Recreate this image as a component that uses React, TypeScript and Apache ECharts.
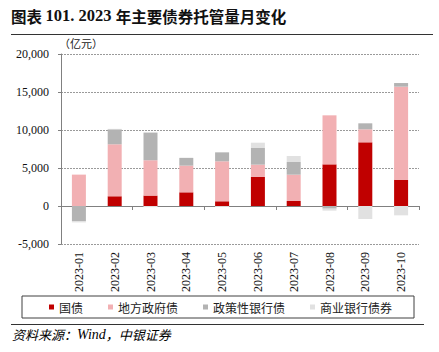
import React, { useEffect, useRef } from "react";
import * as echarts from "echarts";

const categories = ["2023-01", "2023-02", "2023-03", "2023-04", "2023-05", "2023-06", "2023-07", "2023-08", "2023-09", "2023-10"];
const govBond = [0, 1280, 1370, 1800, 620, 3820, 660, 5480, 8380, 3460];
const localBond = [4130, 6840, 4650, 3510, 5260, 1620, 3460, 6450, 1710, 12240];
const policyBank = [-1980, 1970, 3640, 1010, 1180, 2190, 1670, -350, 790, 480];
const commercialBank = [-180, 60, -150, 40, -120, 700, 790, -260, -1710, -1230];
const seriesNames = ["国债", "地方政府债", "政策性银行债", "商业银行债券"];
const colors = ["#C00000", "#F2B0B3", "#B3B3B3", "#E1E1E1"];
const yTicks = { min: -5000, max: 20000, interval: 5000 };

const titleParts = ["图表 ", "101. 2023 ", "年主要债券托管量月变化"];
const unit = "（亿元）";
const sourceParts = ["资料来源：", "Wind", "，中银证券"];

export default function App() {
  const ref = useRef<HTMLDivElement>(null);
  useEffect(() => {
    if (!ref.current) return;
    const chart = echarts.init(ref.current, null, { renderer: "svg" });
    const serif = "'Liberation Serif', 'Times New Roman', serif";
    const cjk = "'Noto Sans CJK SC', sans-serif";
    const data = [govBond, localBond, policyBank, commercialBank];
    chart.setOption({
      animation: false,
      backgroundColor: "#fff",
      grid: { left: 61, right: 20, top: 54, bottom: 108, containLabel: false },
      legend: {
        left: 22,
        top: 296,
        padding: [5, 22, 5, 27],
        borderColor: "#404040",
        borderWidth: 1,
        itemWidth: 5,
        itemHeight: 5,
        itemGap: 25,
        icon: "rect",
        textStyle: { fontFamily: cjk, fontSize: 12, color: "#222" },
        data: seriesNames,
      },
      xAxis: [
        {
          type: "category",
          data: categories,
          position: "bottom",
          axisLine: { onZero: true, lineStyle: { color: "#808080", width: 1 } },
          axisTick: { show: true, length: 4, lineStyle: { color: "#808080" } },
          axisLabel: { show: false },
          splitLine: { show: false },
        },
        {
          type: "category",
          data: categories,
          position: "bottom",
          axisLine: { show: false, onZero: false },
          axisTick: { show: false },
          axisLabel: { show: true, rotate: 90, margin: 8, fontFamily: serif, fontSize: 12, color: "#111" },
          splitLine: { show: false },
        },
      ],
      yAxis: {
        type: "value",
        min: yTicks.min,
        max: yTicks.max,
        interval: yTicks.interval,
        axisLine: { show: true, lineStyle: { color: "#808080" } },
        axisTick: { show: true, length: 3, lineStyle: { color: "#808080" } },
        axisLabel: {
          margin: 12,
          fontFamily: serif,
          fontSize: 12,
          color: "#111",
          formatter: (v: number) => (v < 0 ? "-" : "") + Math.abs(v).toLocaleString("en-US"),
        },
        splitLine: { show: true, lineStyle: { color: "#9a9a9a", type: [2, 1], width: 1 } },
      },
      series: seriesNames.map((name, i) => ({
        name,
        type: "bar",
        stack: "total",
        xAxisIndex: 0,
        barWidth: 14,
        data: data[i],
        itemStyle: { color: colors[i] },
      })),
      graphic: [
        {
          type: "text",
          left: 11,
          top: 7,
          style: {
            text: `{a|${titleParts[0]}}{b|${titleParts[1]}}{a|${titleParts[2]}}`,
            rich: {
              a: { fontFamily: cjk, fontWeight: "bold", fontSize: 15.5, fill: "#111", color: "#111" },
              b: { fontFamily: serif, fontWeight: "bold", fontSize: 16.5, fill: "#111", color: "#111" },
            },
          },
        },
        {
          type: "line",
          shape: { x1: 11, y1: 34.5, x2: 433, y2: 34.5 },
          style: { stroke: "#333", lineWidth: 1.2 },
        },
        {
          type: "text",
          left: 59,
          top: 37,
          style: { text: unit, font: `11px ${cjk}`, fill: "#222" },
        },
        {
          type: "line",
          shape: { x1: 11, y1: 324.5, x2: 424, y2: 324.5 },
          style: { stroke: "#333", lineWidth: 1.2 },
        },
        {
          type: "text",
          left: 12,
          top: 327,
          style: {
            text: `{a|${sourceParts[0]}}{b|${sourceParts[1]}}{a|${sourceParts[2]}}`,
            rich: {
              a: { fontFamily: cjk, fontStyle: "italic", fontSize: 13, color: "#222" },
              b: { fontFamily: serif, fontStyle: "italic", fontSize: 14, color: "#222" },
            },
          },
        },
      ],
    });
    return () => chart.dispose();
  }, []);
  return <div ref={ref} style={{ position: "absolute", left: 0, top: 0, width: 439, height: 352 }} />;
}
